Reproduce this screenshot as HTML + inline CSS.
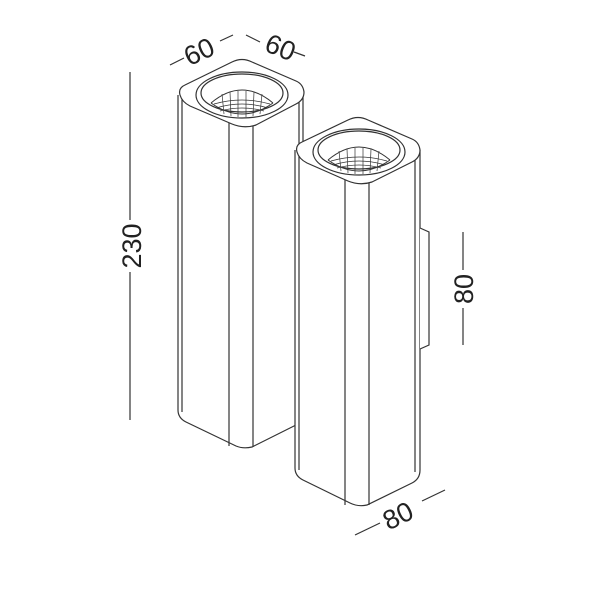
<!DOCTYPE html>
<html><head><style>body{margin:0;background:#fff}svg{display:block}</style></head>
<body>
<svg width="600" height="600" viewBox="0 0 600 600" xmlns="http://www.w3.org/2000/svg" font-family="Liberation Sans, sans-serif">
<g fill="none" stroke="#333" stroke-width="1.2">
<path d="M178,95 L178,410 Q178,418 186,422 L236,446 Q243,449 252,447 L296,425" fill="#fff"/>
<path d="M182,98 L182,412"/>
<line x1="229" y1="118" x2="229" y2="446"/>
<line x1="253" y1="120" x2="253" y2="447"/>
<path d="M303,95 L303,420"/>
<path d="M299,100 L299,420"/>
<path d="M185,85 Q178,88 180,95 Q182,102 190,106 L232,124 Q244,129 256,125 L296,104 Q304,100 304,92 Q303,84 296,81 L252,62 Q242,57 232,62 Z" fill="#fff"/>
<ellipse cx="242" cy="95" rx="46" ry="23"/>
<ellipse cx="242" cy="93" rx="41" ry="19"/>
<path d="M211,103 Q242,77 273,103" stroke-width="1"/>
<path d="M211,103 Q242,125 273,103" stroke-width="1"/>
<g stroke-width="0.7">
<path d="M214,104 Q242,96 270,104 M216,108 Q242,100 268,108 M220,111 Q242,105 264,111"/>
<path d="M222,94 L224,114 M230,92 L231,116 M238,91 L238,117 M246,91 L246,117 M254,92 L253,116 M262,94 L260,114"/>
</g>
<path d="M295,150 L295,468 Q295,476 303,480 L350,503 Q358,507 367,505 L412,483 Q420,479 420,470 L420,150" fill="#fff"/>
<path d="M299,152 L299,470"/>
<path d="M415,152 L415,472"/>
<line x1="345" y1="178" x2="345" y2="505"/>
<line x1="369" y1="178" x2="369" y2="505"/>
<path d="M302,142 Q295,145 297,152 Q299,159 307,163 L348,181 Q360,186 372,182 L412,162 Q420,158 420,150 Q419,142 412,139 L368,120 Q358,115 348,120 Z" fill="#fff"/>
<ellipse cx="359" cy="152" rx="46" ry="23"/>
<ellipse cx="359" cy="150" rx="41" ry="19"/>
<path d="M328,160 Q359,134 390,160" stroke-width="1"/>
<path d="M328,160 Q359,182 390,160" stroke-width="1"/>
<g stroke-width="0.7">
<path d="M331,161 Q359,153 387,161 M333,165 Q359,157 385,165 M337,168 Q359,162 381,168"/>
<path d="M339,151 L341,171 M347,149 L348,173 M355,148 L355,174 M363,148 L363,174 M371,149 L370,173 M379,151 L377,171"/>
</g>
<path d="M420,228 L429,232 L429,345 L420,349" fill="#fff"/>
<line x1="130" y1="72" x2="130" y2="220"/>
<line x1="130" y1="272" x2="130" y2="420"/>
<line x1="463" y1="232" x2="463" y2="270"/>
<line x1="463" y1="308" x2="463" y2="345"/>
<line x1="355" y1="535" x2="380" y2="523"/>
<line x1="422" y1="501" x2="445" y2="490"/>
<line x1="170" y1="65" x2="184" y2="58"/>
<line x1="220" y1="41" x2="233" y2="35"/>
<line x1="246" y1="35" x2="260" y2="42"/>
<line x1="294" y1="52" x2="305" y2="56"/>
</g>
<g fill="#222" font-size="27" text-anchor="middle">
<text transform="translate(141,246) rotate(-90)">230</text>
<text transform="translate(473,289) rotate(-90)">80</text>
<text transform="translate(402,524) rotate(-26)">80</text>
<text transform="translate(203,60) rotate(-25)">60</text>
<text transform="translate(277,56) rotate(22)">60</text>
</g>
</svg>
</body></html>
